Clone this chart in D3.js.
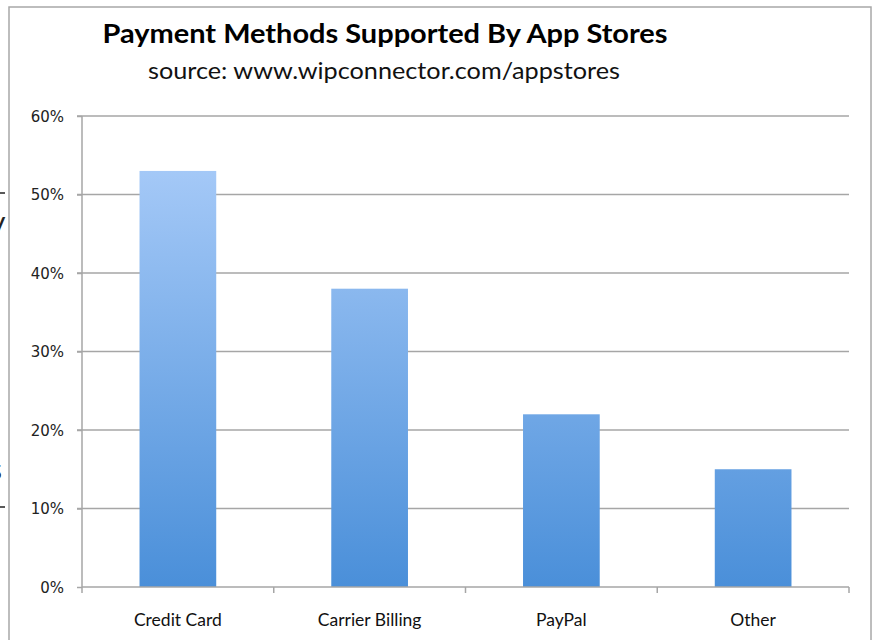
<!DOCTYPE html>
<html>
<head>
    <title>Payment Methods Supported By App Stores</title>
    <meta charset="utf-8">
    <style>
        body { margin: 0; background: #fff; }
        svg { display: block; }
        .grid line { stroke: #a6a6a6; stroke-width: 1.5px; }
        .axis path, .axis line { stroke: #a6a6a6; stroke-width: 1.5px; }
    </style>
    <script src="https://cdn.jsdelivr.net/npm/d3@7"></script>
</head>
<body>
    <svg width="874" height="640"></svg>
    <script>
        var categories = ["Credit Card", "Carrier Billing", "PayPal", "Other"];
        var shares = [0.53, 0.38, 0.22, 0.15];
        var yTicks = [0, 0.1, 0.2, 0.3, 0.4, 0.5, 0.6];

        var svg = d3.select("svg");
        // note: "top" is a reserved window property, so keep the plot box in an object
        var plot = { left: 82, right: 849, top: 116, bottom: 587 };

        // frame of the cropped slide
        svg.append("rect")
            .attr("x", 9).attr("y", 7)
            .attr("width", 862).attr("height", 660)
            .attr("fill", "none").attr("stroke", "#a8a8a8").attr("stroke-width", 1.5);

        // bits of text cut off on the left edge
        var bits = svg.append("g").attr("font-family", "Lato, sans-serif").attr("font-size", 30).attr("fill", "#222");
        bits.append("text").attr("x", -10).attr("y", 233).text("y");
        bits.append("text").attr("x", -11).attr("y", 480).text("s");
        svg.append("line").attr("x1", 0).attr("x2", 5).attr("y1", 193).attr("y2", 193).attr("stroke", "#222").attr("stroke-width", 1.5);
        svg.append("line").attr("x1", 0).attr("x2", 5).attr("y1", 507).attr("y2", 507).attr("stroke", "#222").attr("stroke-width", 1.5);

        var defs = svg.append("defs");
        var grad = defs.append("linearGradient")
            .attr("id", "barFill")
            .attr("gradientUnits", "userSpaceOnUse")
            .attr("x1", 0).attr("x2", 0).attr("y1", plot.top).attr("y2", plot.bottom);
        grad.append("stop").attr("offset", "0%").attr("stop-color", "#b0d0fb");
        grad.append("stop").attr("offset", "100%").attr("stop-color", "#4a8fd9");

        var x = d3.scaleBand()
            .domain(categories)
            .range([plot.left, plot.right])
            .paddingInner(0.6)
            .paddingOuter(0.3);

        var y = d3.scaleLinear()
            .domain([0, 0.6])
            .range([plot.bottom, plot.top]);

        // gridlines
        svg.append("g")
            .attr("class", "grid")
            .selectAll("line")
            .data(yTicks.slice(1))
            .enter().append("line")
            .attr("x1", plot.left - 5).attr("x2", plot.right)
            .attr("y1", function (d) { return y(d); })
            .attr("y2", function (d) { return y(d); });

        // bars
        svg.append("g")
            .selectAll("rect")
            .data(categories)
            .enter().append("rect")
            .attr("x", function (d) { return x(d); })
            .attr("width", x.bandwidth())
            .attr("y", function (d, i) { return y(shares[i]); })
            .attr("height", function (d, i) { return plot.bottom - y(shares[i]); })
            .attr("fill", "url(#barFill)");

        // y axis
        var yAxis = svg.append("g")
            .attr("class", "axis")
            .attr("transform", "translate(" + plot.left + ",0)")
            .call(d3.axisLeft(y).tickValues(yTicks).tickSize(5).tickPadding(13).tickFormat(d3.format(".0%")));
        yAxis.attr("font-family", "DejaVu Sans, sans-serif").attr("font-size", 15);
        yAxis.selectAll("text").attr("fill", "#222").attr("dy", "0.36em");
        yAxis.select(".domain").attr("d", "M0," + plot.top + "V" + plot.bottom);

        // x axis with ticks at category boundaries
        var step = x.step();
        var bounds = d3.range(categories.length + 1).map(function (i) { return plot.left + i * step; });
        var xAxis = svg.append("g").attr("class", "axis");
        xAxis.append("line")
            .attr("x1", plot.left).attr("x2", plot.right)
            .attr("y1", plot.bottom).attr("y2", plot.bottom);
        xAxis.selectAll("line.tick")
            .data(bounds)
            .enter().append("line")
            .attr("class", "tick")
            .attr("x1", function (d) { return d; }).attr("x2", function (d) { return d; })
            .attr("y1", plot.bottom).attr("y2", plot.bottom + 6);
        xAxis.selectAll("text")
            .data(categories)
            .enter().append("text")
            .attr("text-anchor", "middle")
            .attr("font-family", "Lato, sans-serif").attr("font-size", 17.5).attr("fill", "#111")
            .attr("x", function (d) { return x(d) + x.bandwidth() / 2; })
            .attr("y", 626)
            .text(function (d) { return d; });

        // titles
        svg.append("text")
            .attr("x", 385).attr("y", 43)
            .attr("text-anchor", "middle")
            .attr("font-family", "Lato, sans-serif").attr("font-weight", "bold").attr("font-size", 26)
            .attr("textLength", 565).attr("lengthAdjust", "spacingAndGlyphs")
            .attr("fill", "#000")
            .text("Payment Methods Supported By App Stores");

        svg.append("text")
            .attr("x", 384).attr("y", 79)
            .attr("text-anchor", "middle")
            .attr("font-family", "Lato, sans-serif").attr("font-size", 23)
            .attr("textLength", 472).attr("lengthAdjust", "spacingAndGlyphs")
            .attr("fill", "#111")
            .text("source: www.wipconnector.com/appstores");
    </script>
</body>
</html>
